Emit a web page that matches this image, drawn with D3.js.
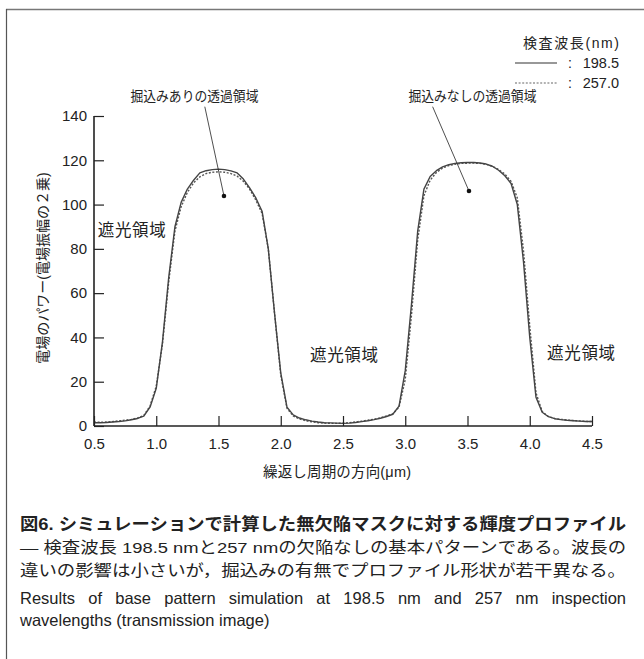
<!DOCTYPE html>
<html>
<head>
<meta charset="utf-8">
<script src="https://cdn.jsdelivr.net/npm/d3@7/dist/d3.min.js"></script>
<style>
  html, body { margin: 0; padding: 0; background: #fff; }
  svg { display: block; }
  text { font-family: "Liberation Sans", Arial, "Noto Sans CJK JP", sans-serif; fill: #222; }
</style>
</head>
<body>
<svg id="chart" width="644" height="659"></svg>
<script>
// Position along the repeat period (µm)
const positions = [0.50,0.55,0.60,0.65,0.70,0.75,0.80,0.85,0.90,0.95,
  1.00,1.05,1.10,1.15,1.20,1.25,1.30,1.35,1.40,1.45,
  1.50,1.55,1.60,1.65,1.70,1.75,1.80,1.85,1.90,1.95,
  2.00,2.05,2.10,2.15,2.20,2.25,2.30,2.35,2.40,2.45,
  2.50,2.55,2.60,2.65,2.70,2.75,2.80,2.85,2.90,2.95,
  3.00,3.05,3.10,3.15,3.20,3.25,3.30,3.35,3.40,3.45,
  3.50,3.55,3.60,3.65,3.70,3.75,3.80,3.85,3.90,3.95,
  4.00,4.05,4.10,4.15,4.20,4.25,4.30,4.35,4.40,4.45,4.50];

// Field power at 198.5 nm
const power1985 = [1.5,1.5,1.6,1.8,2.0,2.3,2.8,3.4,4.5,8.5,
  17,38,67,90,101,107,111,114.3,115.3,115.8,
  116,115.8,115.2,114.3,111.5,107.5,103,97,80,51,
  24,8.5,5,3.6,2.8,2.2,1.8,1.5,1.4,1.3,
  1.2,1.3,1.6,2.0,2.4,2.9,3.5,4.3,5.3,9,
  25,55,88,107,112.7,115.3,117,118,118.6,118.9,
  119,119,118.8,118.3,117.3,115.5,113,109.5,100,74,
  40,13,6.2,4.2,3.3,2.9,2.6,2.4,2.2,2.0,2.0];

// Field power at 257.0 nm
const power2570 = [1.8,1.7,1.8,2.0,2.3,2.6,3.0,3.6,4.8,9,
  18,37,65,88,99,105.5,109.8,112.5,114,114.6,
  114.8,114.6,114,112.8,110.5,107,102,96,80,51,
  23,8,4.5,3.2,2.4,1.9,1.5,1.3,1.2,1.2,
  1.3,1.5,1.8,2.2,2.6,3.1,3.7,4.5,5.5,8.5,
  21,50,84,104,111,114.5,116.5,117.6,118.2,118.6,
  118.7,118.7,118.6,118.2,117.3,115.8,113.8,110.5,103,79,
  45,15,6.5,4.3,3.4,3.0,2.7,2.5,2.3,2.1,2.0];

const xTicks = [0.5,1.0,1.5,2.0,2.5,3.0,3.5,4.0,4.5];
const yTicks = [0,20,40,60,80,100,120,140];

const legendTitle = "検査波長(nm)";
const seriesNames = ["198.5", "257.0"];

const regionLabels = [
  { text: "遮光領域", x: 0.53, y: 85.8 },
  { text: "遮光領域", x: 2.235, y: 29.4 },
  { text: "遮光領域", x: 4.139, y: 30.3 }
];
const callouts = [
  { text: "掘込みありの透過領域", tx: 1.307, ty: 146.6, x0: 1.39, y0: 144.2, x1: 1.544, y1: 103.9 },
  { text: "掘込みなしの透過領域", tx: 3.54, ty: 146.6, x0: 3.22, y0: 144.2, x1: 3.512, y1: 106.1 }
];

const svg = d3.select("#chart");

// outer frame (top and left rules)
svg.append("line").attr("x1", 6).attr("y1", 9.5).attr("x2", 644).attr("y2", 9.5)
  .attr("stroke", "#777").attr("stroke-width", 1.5);
svg.append("line").attr("x1", 6.5).attr("y1", 9).attr("x2", 6.5).attr("y2", 659)
  .attr("stroke", "#555").attr("stroke-width", 1.2);

const x = d3.scaleLinear().domain([0.5, 4.5]).range([94, 592]);
const y = d3.scaleLinear().domain([0, 140]).range([426, 116]);

// curves
const line = d3.line().x((d, i) => x(positions[i])).y(d => y(d));
svg.append("path").datum(power2570).attr("d", line)
  .attr("fill", "none").attr("stroke", "#555").attr("stroke-width", 1.4)
  .attr("stroke-dasharray", "2,1.6");
svg.append("path").datum(power1985).attr("d", line)
  .attr("fill", "none").attr("stroke", "#444").attr("stroke-width", 1.4)
  .attr("stroke-linejoin", "round");

// axes with inward ticks
const xAxis = d3.axisBottom(x).tickValues(xTicks).tickSize(-10).tickPadding(12)
  .tickFormat(d3.format(".1f"));
const gx = svg.append("g").attr("transform", "translate(0,426)").call(xAxis);
gx.select(".domain").attr("stroke", "#222").attr("stroke-width", 1.6).attr("d", "M94,0H592");
gx.selectAll(".tick line").attr("stroke", "#222").attr("stroke-width", 1.2);
gx.selectAll(".tick text").attr("font-size", 15).attr("fill", "#222")
  .attr("font-family", "Liberation Sans, Arial, sans-serif");

const yAxis = d3.axisLeft(y).tickValues(yTicks).tickSize(-10).tickPadding(7);
const gy = svg.append("g").attr("transform", "translate(94,0)").call(yAxis);
gy.select(".domain").attr("stroke", "#222").attr("stroke-width", 1.6).attr("d", "M0,426V116");
gy.selectAll(".tick line").attr("stroke", "#222").attr("stroke-width", 1.2);
gy.selectAll(".tick text").attr("font-size", 15).attr("fill", "#222")
  .attr("font-family", "Liberation Sans, Arial, sans-serif");

// axis titles
svg.append("text").attr("x", 337).attr("y", 477).attr("text-anchor", "middle")
  .attr("font-size", 14.5).attr("textLength", 148).text("繰返し周期の方向(μm)");
svg.append("text").attr("transform", "translate(48,268) rotate(-90)")
  .attr("text-anchor", "middle").attr("font-size", 14).attr("fill", "#222")
  .text("電場のパワー(電場振幅の２乗)");

// legend
svg.append("text").attr("x", 619).attr("y", 48).attr("text-anchor", "end")
  .attr("font-size", 14).attr("textLength", 96).text(legendTitle);
[0, 1].forEach(i => {
  const ly = 63 + i * 20;
  svg.append("line").attr("x1", 515).attr("x2", 557).attr("y1", ly).attr("y2", ly)
    .attr("stroke", i === 0 ? "#333" : "#666").attr("stroke-width", 1.2)
    .attr("stroke-dasharray", i === 0 ? null : "2,1.6");
  svg.append("text").attr("x", 568).attr("y", ly + 5).attr("font-size", 14).text(":");
  svg.append("text").attr("x", 619).attr("y", ly + 5).attr("text-anchor", "end")
    .attr("font-size", 14.5).text(seriesNames[i]);
});

// shading-region labels
regionLabels.forEach(r => {
  svg.append("text").attr("x", x(r.x)).attr("y", y(r.y)).attr("font-size", 16.5)
    .attr("textLength", 68).text(r.text);
});

// callouts
callouts.forEach(c => {
  svg.append("text").attr("x", x(c.tx)).attr("y", y(c.ty)).attr("text-anchor", "middle")
    .attr("font-size", 14).attr("textLength", 128).attr("lengthAdjust", "spacingAndGlyphs")
    .text(c.text);
  svg.append("line").attr("x1", x(c.x0)).attr("y1", y(c.y0)).attr("x2", x(c.x1)).attr("y2", y(c.y1))
    .attr("stroke", "#222").attr("stroke-width", 0.8);
  svg.append("circle").attr("cx", x(c.x1)).attr("cy", y(c.y1)).attr("r", 2.3).attr("fill", "#111");
});

// caption
const caption = svg.append("g");
caption.append("text").attr("x", 20).attr("y", 530).attr("font-size", 17).attr("font-weight", "bold")
  .attr("textLength", 606).attr("lengthAdjust", "spacingAndGlyphs")
  .text("図6. シミュレーションで計算した無欠陥マスクに対する輝度プロファイル");
caption.append("text").attr("x", 20).attr("y", 553).attr("font-size", 15.5)
  .attr("font-family", "Liberation Serif, Noto Sans CJK JP, serif")
  .attr("textLength", 606).attr("lengthAdjust", "spacingAndGlyphs")
  .text(" — 検査波長 198.5 nmと257 nmの欠陥なしの基本パターンである。波長の");
caption.append("text").attr("x", 20).attr("y", 576).attr("font-size", 15.5)
  .attr("font-family", "Liberation Serif, Noto Sans CJK JP, serif")
  .attr("textLength", 606).attr("lengthAdjust", "spacingAndGlyphs")
  .text("違いの影響は小さいが，掘込みの有無でプロファイル形状が若干異なる。");
// English lines: the first is justified to the full width with word spacing
const en1 = caption.append("text").attr("x", 20).attr("y", 604).attr("font-size", 16.5)
  .text("Results of base pattern simulation at 198.5 nm and 257 nm inspection");
const natural = en1.node().getComputedTextLength();
const gaps = en1.text().split(" ").length - 1;
en1.attr("word-spacing", Math.max(0, (606 - natural) / gaps));
caption.append("text").attr("x", 20).attr("y", 626).attr("font-size", 16.5)
  .text("wavelengths (transmission image)");
</script>
</body>
</html>
